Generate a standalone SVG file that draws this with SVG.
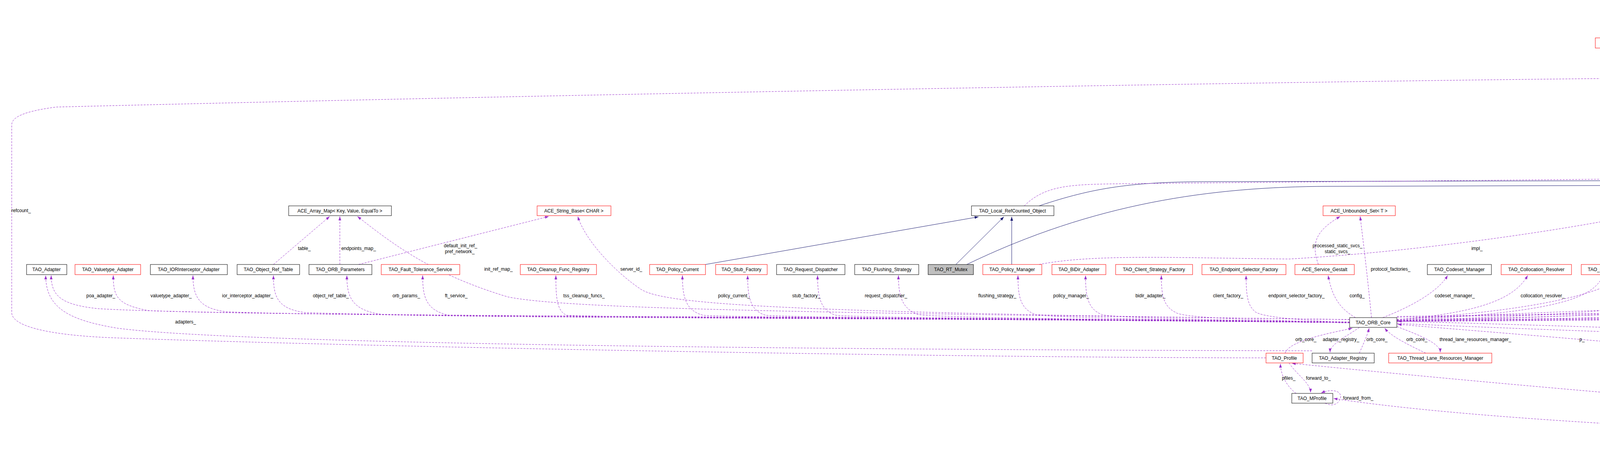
<svg xmlns="http://www.w3.org/2000/svg" width="6523" height="1157" viewBox="0 0 6523 1157">
<defs>
<style>
.n rect{fill:#fff;stroke:#000;stroke-width:1}
.r rect{fill:#fff;stroke:#f00;stroke-width:1}
.g rect{fill:#bfbfbf;stroke:#000;stroke-width:1}
text{font-family:"Liberation Sans",Arial,sans-serif;font-size:12px;fill:#000;text-anchor:middle}
.e path{fill:none;stroke:#9a32cd;stroke-width:1;stroke-dasharray:5,3;marker-end:url(#pa)}
.e path.i{stroke:#191970;stroke-dasharray:none;marker-end:url(#ba)}
.lab text{font-size:12px}
</style>
<marker id="pa" viewBox="0 0 10 10" refX="10" refY="5" markerWidth="10" markerHeight="10" markerUnits="userSpaceOnUse" orient="auto"><path d="M0,1.5 L10,5 L0,8.5 z" fill="#9a32cd"/></marker>
<marker id="ba" viewBox="0 0 10 10" refX="10" refY="5" markerWidth="10" markerHeight="10" markerUnits="userSpaceOnUse" orient="auto"><path d="M0,1.5 L10,5 L0,8.5 z" fill="#191970"/></marker>
</defs>
<rect width="6523" height="1157" fill="#fff"/>
<g id="edges" class="e">
<path class="i" d="M1806,677 L2505,555"/>
<path class="i" d="M2447,677 L2570,555"/>
<path class="i" d="M2590,677 L2590,555"/>
<path class="i" d="M2475,677 C2800,520 3100,478 3400,477 L4400,474 C4500,470 4560,460 4628,453"/>
<path class="i" d="M2660,527 C2800,480 2900,465 3100,465 L4400,462 C4500,460 4560,440 4614,407"/>
<path class="i" d="M4650,380 L4763,306"/>
<path class="i" d="M4700,431 L4783,306"/>
<path class="i" d="M5768,329 L5768,215"/>
<path d="M2622,527 C2680,470 2750,472 2900,470 L4400,456 C4500,445 4523,420 4523,320 L4523,215 C4523,150 4700,125 5411,118"/>
<path d="M4745,279 L4414,214"/>
<path d="M4300,188 L4287,125"/>
<path d="M4350,188 C4370,140 4600,118 5411,110"/>
<path d="M5598,97 L5598,34"/>
<path d="M4853,285 L5721,202"/>
<path d="M6143,1135 C6300,1100 6378,1050 6378,900 L6378,760 C6378,650 6318,600 6318,450 C6318,300 6100,230 5811,202"/>
<path d="M6143,1145 C6350,1140 6462,1100 6462,1000 L6462,200 C6462,130 6400,150 6350,148 C6200,150 6000,120 5785,113"/>
<path d="M5666,905 C5900,880 5960,800 5970,700 L5990,620 C6050,560 6365,450 6365,300 C6365,200 6100,130 5785,119"/>
<path d="M4853,292 C5200,300 5800,330 6000,330 C6100,300 6200,320 6230,380 L6263,440 L6263,850 C6263,950 6150,1050 6122,1125"/>
<path d="M6110,1127 C6150,1000 6189,950 6189,860 L6189,680 C6150,620 5900,610 5700,600 L4850,598 C4600,580 4400,560 4306,551"/>
<path d="M6098,1127 L6089,705"/>
<path d="M6059,1135 C5900,1130 5851,1100 5851,1034"/>
<path d="M6085,1127 C6050,1080 6000,1010 5950,1000 C5500,980 5300,970 5109,968"/>
<path d="M6059,1145 C5500,1140 4000,1110 3414,1020"/>
<path d="M6059,1140 C5500,1110 4500,1050 3307,930"/>
<path d="M3392,1032 C3420,1045 3432,1025 3432,1015 C3432,998 3405,996 3382,1006"/>
<path d="M3318,1007 C3295,990 3278,960 3278,931"/>
<path d="M3300,929 C3320,960 3355,980 3355,1005"/>
<path d="M3241,916 C2500,916 1000,890 300,865 C150,860 30,840 30,800 L30,320 C30,300 60,285 144,274 C1500,240 3500,205 4231,200"/>
<path d="M3359,898 C2000,895 600,880 300,840 C180,820 117,790 117,705"/>
<path d="M3290,904 C3300,870 3420,850 3462,840"/>
<path d="M3480,838 C3450,860 3405,880 3405,902"/>
<path d="M3480,904 C3490,880 3500,860 3505,840"/>
<path d="M3650,904 C3600,880 3560,860 3545,840"/>
<path d="M3576,836 C3640,860 3687,880 3687,902"/>
<path d="M4926,960 C4500,900 3800,850 3578,830"/>
<path d="M3576,828 C4300,860 5200,880 5557,915"/>
<path d="M5559,908 C5200,870 4200,840 3578,822"/>
<path d="M5666,912 C5800,880 5905,800 5905,760 C5905,720 5875,705 5853,706"/>
<path d="M5050,705 C5090,718 5115,702 5115,690 C5115,668 5090,662 5052,675"/>
<path d="M5820,705 C5855,713 5870,700 5870,690 C5870,668 5840,663 5806,675"/>
<path d="M3576,818 C4000,790 4790,790 4800,700 L4800,330 L4782,306"/>
<path d="M4797,304 C4860,380 4955,450 4955,600 C4950,750 4850,790 3578,822"/>
<path d="M3455,818 C2000,800 1450,790 1300,760 C1100,700 1000,620 915,554"/>
<path d="M3455,818 C2000,800 1700,780 1640,740 C1580,700 1500,620 1479,554"/>
<path d="M700,677 L844,554"/>
<path d="M870,677 L870,554"/>
<path d="M918,677 L1405,554"/>
<path d="M3511,813 C3500,700 3490,620 3482,554"/>
<path d="M3375,677 C3355,620 3370,590 3431,554"/>
<path d="M3576,818 C4150,780 4245,700 4248,554"/>
<path d="M2660,677 C2800,650 3000,660 3300,663 C3700,640 4100,570 4184,551"/>
<path d="M3576,812 C5000,790 5660,780 5680,700 L5755,357"/>
<path d="M3576,810 C5000,790 5598,770 5598,650 L5598,125"/>
<path d="M3455,824 C2500,810 600,812 250,790 C160,780 131,760 131,705"/>
<path d="M3455,825 C2500,812 700,810 380,795 C300,780 290,760 290,705"/>
<path d="M3455,825 C2500,812 900,812 580,798 C510,790 494,760 494,705"/>
<path d="M3455,826 C2500,814 1100,812 780,800 C710,790 700,760 700,705"/>
<path d="M3455,826 C2500,815 1200,814 980,805 C900,795 888,760 888,705"/>
<path d="M3455,826 C2500,815 1300,814 1150,807 C1090,795 1082,760 1082,705"/>
<path d="M3455,826 C2500,816 1600,814 1450,807 C1425,795 1423,760 1423,705"/>
<path d="M3455,826 C2800,816 1900,814 1800,807 C1755,795 1747,760 1747,705"/>
<path d="M3455,826 C2800,817 2050,814 1960,807 C1920,795 1914,760 1914,705"/>
<path d="M3455,826 C2900,817 2200,814 2140,807 C2100,795 2093,760 2093,705"/>
<path d="M3455,826 C2900,818 2400,814 2350,805 C2310,790 2300,760 2300,705"/>
<path d="M3455,826 C3000,818 2700,814 2650,805 C2612,790 2606,760 2606,705"/>
<path d="M3455,826 C3100,818 2850,814 2820,805 C2785,790 2779,760 2779,705"/>
<path d="M3455,826 C3200,818 3030,814 3010,800 C2980,785 2973,760 2973,705"/>
<path d="M3455,826 C3300,818 3220,810 3210,795 C3195,780 3190,760 3190,705"/>
<path d="M3470,813 C3430,790 3410,760 3400,705"/>
<path d="M3540,813 C3600,790 3680,750 3706,705"/>
<path d="M3576,818 C3800,800 3880,760 3911,705"/>
<path d="M3576,820 C4000,800 4080,760 4104,705"/>
<path d="M3576,820 C4300,800 4440,760 4467,705"/>
<path d="M3576,820 C4500,800 4700,780 4718,705"/>
<path d="M3576,821 C4800,805 4980,790 4999,705"/>
<path d="M3576,821 C4900,805 5240,795 5264,705"/>
<path d="M3576,822 C5000,808 5460,800 5480,705"/>
<path d="M3576,822 C5200,810 5710,800 5735,705"/>
<path d="M3576,823 C5400,812 6000,800 6052,705"/>
</g>
<g id="n_AtomicEx" class="n"><rect x="5403" y="7" width="391" height="25"/><text x="5598" y="24">ACE_Atomic_Op_Ex&lt; TAO_SYNCH_MUTEX, unsigned long &gt;</text></g>
<g id="n_AtomicNull" class="r"><rect x="4084" y="97" width="410" height="26"/><text x="4289" y="114">ACE_Atomic_Op&lt; ACE_SYNCH_NULL_MUTEX, unsigned long &gt;</text></g>
<g id="n_AtomicSynch" class="n"><rect x="5413" y="97" width="370" height="26"/><text x="5598" y="114">ACE_Atomic_Op&lt; TAO_SYNCH_MUTEX, unsigned long &gt;</text></g>
<g id="n_CfgRef" class="n"><rect x="4233" y="188" width="190" height="25"/><text x="4328" y="205">TAO_Configurable_Refcount</text></g>
<g id="n_ACELock" class="n"><rect x="5723" y="188" width="86" height="25"/><text x="5766" y="205">ACE_Lock</text></g>
<g id="n_CORBAObject" class="n"><rect x="4739" y="279" width="114" height="25"/><text x="4796" y="296">CORBA::Object</text></g>
<g id="n_LockAdapter" class="n"><rect x="5620" y="329" width="294" height="26"/><text x="5767" y="346">ACE_Lock_Adapter&lt; TAO_SYNCH_MUTEX &gt;</text></g>
<g id="n_LocalObject" class="n"><rect x="4561" y="380" width="146" height="25"/><text x="4634" y="397">CORBA::LocalObject</text></g>
<g id="n_RTCORBAMutex" class="n"><rect x="4628" y="431" width="130" height="25"/><text x="4693" y="448">RTCORBA::Mutex</text></g>
<g id="n_ArrayMap" class="n"><rect x="739" y="527" width="263" height="25"/><text x="870" y="544">ACE_Array_Map&lt; Key, Value, EqualTo &gt;</text></g>
<g id="n_StringBase" class="r"><rect x="1375" y="527" width="189" height="25"/><text x="1469" y="544">ACE_String_Base&lt; CHAR &gt;</text></g>
<g id="n_LocalRef" class="n"><rect x="2487" y="527" width="211" height="25"/><text x="2592" y="544">TAO_Local_RefCounted_Object</text></g>
<g id="n_UnboundedSet" class="r"><rect x="3387" y="527" width="185" height="25"/><text x="3479" y="544">ACE_Unbounded_Set&lt; T &gt;</text></g>
<g id="n_PolicySet" class="r"><rect x="4186" y="527" width="118" height="25"/><text x="4245" y="544">TAO_Policy_Set</text></g>
<g id="n_Adapter" class="n"><rect x="68" y="677" width="103" height="26"/><text x="119" y="694">TAO_Adapter</text></g>
<g id="n_Valuetype" class="r"><rect x="192" y="677" width="168" height="26"/><text x="276" y="694">TAO_Valuetype_Adapter</text></g>
<g id="n_IORInt" class="n"><rect x="385" y="677" width="197" height="26"/><text x="483" y="694">TAO_IORInterceptor_Adapter</text></g>
<g id="n_ObjRefTable" class="n"><rect x="607" y="677" width="160" height="26"/><text x="687" y="694">TAO_Object_Ref_Table</text></g>
<g id="n_ORBParams" class="n"><rect x="791" y="677" width="161" height="26"/><text x="871" y="694">TAO_ORB_Parameters</text></g>
<g id="n_FT" class="r"><rect x="976" y="677" width="201" height="26"/><text x="1076" y="694">TAO_Fault_Tolerance_Service</text></g>
<g id="n_Cleanup" class="r"><rect x="1332" y="677" width="195" height="26"/><text x="1429" y="694">TAO_Cleanup_Func_Registry</text></g>
<g id="n_PolicyCurrent" class="r"><rect x="1663" y="677" width="143" height="26"/><text x="1734" y="694">TAO_Policy_Current</text></g>
<g id="n_StubFactory" class="r"><rect x="1832" y="677" width="132" height="26"/><text x="1898" y="694">TAO_Stub_Factory</text></g>
<g id="n_ReqDisp" class="n"><rect x="1988" y="677" width="175" height="26"/><text x="2075" y="694">TAO_Request_Dispatcher</text></g>
<g id="n_Flushing" class="n"><rect x="2188" y="677" width="164" height="26"/><text x="2270" y="694">TAO_Flushing_Strategy</text></g>
<g id="n_RTMutex" class="g"><rect x="2376" y="677" width="116" height="26"/><text x="2434" y="694">TAO_RT_Mutex</text></g>
<g id="n_PolicyManager" class="r"><rect x="2516" y="677" width="151" height="26"/><text x="2591" y="694">TAO_Policy_Manager</text></g>
<g id="n_BiDir" class="r"><rect x="2693" y="677" width="138" height="26"/><text x="2762" y="694">TAO_BiDir_Adapter</text></g>
<g id="n_ClientStrat" class="r"><rect x="2856" y="677" width="197" height="26"/><text x="2954" y="694">TAO_Client_Strategy_Factory</text></g>
<g id="n_EndpointSel" class="r"><rect x="3077" y="677" width="215" height="26"/><text x="3184" y="694">TAO_Endpoint_Selector_Factory</text></g>
<g id="n_Gestalt" class="r"><rect x="3315" y="677" width="152" height="26"/><text x="3391" y="694">ACE_Service_Gestalt</text></g>
<g id="n_Codeset" class="n"><rect x="3654" y="677" width="164" height="26"/><text x="3736" y="694">TAO_Codeset_Manager</text></g>
<g id="n_Colloc" class="r"><rect x="3843" y="677" width="180" height="26"/><text x="3933" y="694">TAO_Collocation_Resolver</text></g>
<g id="n_Parser" class="r"><rect x="4048" y="677" width="150" height="26"/><text x="4123" y="694">TAO_Parser_Registry</text></g>
<g id="n_NetPrio" class="r"><rect x="4369" y="677" width="263" height="26"/><text x="4500" y="694">TAO_Network_Priority_Protocols_Hooks</text></g>
<g id="n_ProtoHooks" class="r"><rect x="4656" y="677" width="156" height="26"/><text x="4734" y="694">TAO_Protocols_Hooks</text></g>
<g id="n_ThrMgr" class="r"><rect x="4938" y="677" width="157" height="26"/><text x="5016" y="694">ACE_Thread_Manager</text></g>
<g id="n_ServerStrat" class="r"><rect x="5200" y="677" width="204" height="26"/><text x="5302" y="694">TAO_Server_Strategy_Factory</text></g>
<g id="n_ResFactory" class="r"><rect x="5428" y="677" width="163" height="26"/><text x="5509" y="694">TAO_Resource_Factory</text></g>
<g id="n_TimeValue" class="n"><rect x="5717" y="677" width="127" height="26"/><text x="5780" y="694">ACE_Time_Value</text></g>
<g id="n_PseudoVar" class="r"><rect x="6000" y="677" width="177" height="26"/><text x="6088" y="694">TAO_Pseudo_Var_T&lt; T &gt;</text></g>
<g id="n_ORBCore" class="n"><rect x="3455" y="813" width="121" height="25"/><text x="3515" y="830">TAO_ORB_Core</text></g>
<g id="n_Profile" class="r"><rect x="3241" y="904" width="95" height="25"/><text x="3288" y="921">TAO_Profile</text></g>
<g id="n_AdapterReg" class="n"><rect x="3359" y="904" width="159" height="25"/><text x="3438" y="921">TAO_Adapter_Registry</text></g>
<g id="n_ThreadLane" class="r"><rect x="3555" y="904" width="264" height="25"/><text x="3687" y="921">TAO_Thread_Lane_Resources_Manager</text></g>
<g id="n_CORBAORB" class="n"><rect x="5559" y="904" width="107" height="25"/><text x="5612" y="921">CORBA::ORB</text></g>
<g id="n_AutoPtr" class="n"><rect x="4926" y="956" width="181" height="25"/><text x="5016" y="973">TAO_ORB_Core_Auto_Ptr</text></g>
<g id="n_MProfile" class="n"><rect x="3307" y="1007" width="105" height="25"/><text x="3359" y="1024">TAO_MProfile</text></g>
<g id="n_ServantBase" class="n"><rect x="5765" y="1007" width="187" height="25"/><text x="5858" y="1024">TAO_Abstract_ServantBase</text></g>
<g id="n_Stub" class="n"><rect x="6059" y="1127" width="84" height="25"/><text x="6101" y="1144">TAO_Stub</text></g>
<g id="labels" class="lab">
<text x="29" y="543" style="text-anchor:start">refcount_</text>
<text x="779" y="640">table_</text>
<text x="918" y="640">endpoints_map_</text>
<text x="1179" y="633">default_init_ref_</text>
<text x="1177" y="648">pref_network_</text>
<text x="1276" y="693">init_ref_map_</text>
<text x="1616" y="693">server_id_</text>
<text x="258" y="761">poa_adapter_</text>
<text x="438" y="761">valuetype_adapter_</text>
<text x="634" y="761">ior_interceptor_adapter_</text>
<text x="847" y="761">object_ref_table_</text>
<text x="1040" y="761">orb_params_</text>
<text x="1168" y="761">ft_service_</text>
<text x="1495" y="761">tss_cleanup_funcs_</text>
<text x="475" y="828">adapters_</text>
<text x="1879" y="761">policy_current_</text>
<text x="2064" y="761">stub_factory_</text>
<text x="2268" y="761">request_dispatcher_</text>
<text x="2553" y="761">flushing_strategy_</text>
<text x="2742" y="761">policy_manager_</text>
<text x="2945" y="761">bidir_adapter_</text>
<text x="3144" y="761">client_factory_</text>
<text x="3319" y="761">endpoint_selector_factory_</text>
<text x="3474" y="761">config_</text>
<text x="3724" y="761">codeset_manager_</text>
<text x="3949" y="761">collocation_resolver_</text>
<text x="4140" y="761">parser_registry_</text>
<text x="4528" y="761">network_priority_protocols_hooks_</text>
<text x="4756" y="761">protocols_hooks_</text>
<text x="4999" y="761">tm_</text>
<text x="5261" y="761">server_factory_</text>
<text x="5501" y="761">resource_factory_</text>
<text x="5803" y="761">thread_per_connection_timeout_</text>
<text x="3424" y="633">processed_static_svcs_</text>
<text x="3424" y="648">static_svcs_</text>
<text x="3781" y="640">impl_</text>
<text x="3560" y="693">protocol_factories_</text>
<text x="4295" y="693">default_policies_</text>
<text x="4888" y="492">pi_current_</text>
<text x="4888" y="507">ior_manip_factory_</text>
<text x="4888" y="521">ior_table_</text>
<text x="4888" y="536">typecode_factory_</text>
<text x="4888" y="551">implrepo_service_</text>
<text x="4888" y="565">codec_factory_</text>
<text x="4888" y="580">compression_manager_</text>
<text x="4888" y="595">dynany_factory_</text>
<text x="4995" y="543">orb_core_</text>
<text x="5626" y="396">refcount_</text>
<text x="5784" y="543">data_block_lock_</text>
<text x="6393" y="447">refcount_</text>
<text x="6488" y="640">refcount_</text>
<text x="5147" y="693">thr_mgr_</text>
<text x="5896" y="687">max_time</text>
<text x="5896" y="701">zero</text>
<text x="6392" y="693">profile_lock_ptr_</text>
<text x="6051" y="740">rt_orb_</text>
<text x="6051" y="755">poa_current_</text>
<text x="6051" y="769">rt_current_</text>
<text x="6051" y="784">root_poa_</text>
<text x="6307" y="761">protocol_proxy_</text>
<text x="5909" y="828">timeout_</text>
<text x="5612" y="69">impl_</text>
<text x="4330" y="159">null_refcount_</text>
<text x="4471" y="159">mutex_refcount_</text>
<text x="4616" y="250">refcount_</text>
<text x="5413" y="250">object_init_lock_</text>
<text x="4549" y="296">refcount_</text>
<text x="3343" y="873">orb_core_</text>
<text x="3433" y="873">adapter_registry_</text>
<text x="3525" y="873">orb_core_</text>
<text x="3627" y="873">orb_core_</text>
<text x="3777" y="873">thread_lane_resources_manager_</text>
<text x="4050" y="873">p_</text>
<text x="4698" y="874">orb_</text>
<text x="5016" y="874">orb_core_</text>
<text x="6208" y="874">policies_</text>
<text x="6130" y="914">servant_orb_</text>
<text x="6130" y="928">orb_</text>
<text x="3299" y="972">pfiles_</text>
<text x="3375" y="972">forward_to_</text>
<text x="3477" y="1023">forward_from_</text>
<text x="4529" y="1023">profile_in_use_</text>
<text x="4698" y="1068">forward_profiles_</text>
<text x="4698" y="1083">forward_profiles_perm_</text>
<text x="4698" y="1097">base_profiles_</text>
<text x="6034" y="1023">orb_core_</text>
<text x="5921" y="1083">collocated_servant_</text>
</g>
</svg>
